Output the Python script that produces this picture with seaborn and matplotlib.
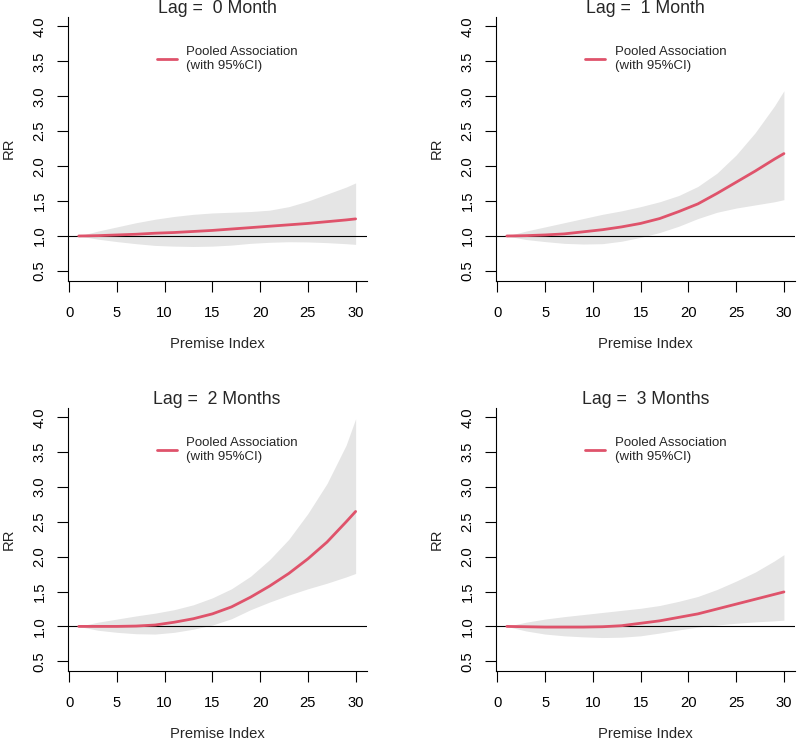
import pandas as pd
import matplotlib
matplotlib.use('Agg')
import matplotlib.pyplot as plt
import seaborn as sns

sns.set_style('ticks')
plt.rcParams['font.family'] = ['Liberation Sans', 'DejaVu Sans']

# Values
premise_index = [1, 3, 5, 7, 9, 11, 13, 15, 17, 19, 21, 23, 25, 27, 29, 30]

lag0_rr = [1.00, 1.005, 1.015, 1.025, 1.04, 1.05, 1.065, 1.08, 1.10, 1.12, 1.14, 1.16, 1.18, 1.205, 1.23, 1.245]
lag0_high = [1.00, 1.07, 1.13, 1.19, 1.24, 1.28, 1.31, 1.33, 1.34, 1.35, 1.37, 1.42, 1.50, 1.60, 1.70, 1.76]
lag0_low = [1.00, 0.955, 0.92, 0.89, 0.865, 0.855, 0.85, 0.855, 0.87, 0.895, 0.91, 0.918, 0.915, 0.905, 0.89, 0.88]

lag1_rr = [1.00, 1.005, 1.015, 1.03, 1.06, 1.09, 1.13, 1.18, 1.25, 1.35, 1.46, 1.61, 1.77, 1.93, 2.10, 2.18]
lag1_high = [1.00, 1.07, 1.13, 1.19, 1.25, 1.31, 1.36, 1.42, 1.49, 1.58, 1.71, 1.90, 2.16, 2.48, 2.86, 3.08]
lag1_low = [1.00, 0.95, 0.92, 0.895, 0.885, 0.89, 0.925, 0.98, 1.05, 1.14, 1.25, 1.34, 1.40, 1.445, 1.49, 1.52]

lag2_rr = [1.00, 1.00, 1.00, 1.005, 1.02, 1.06, 1.11, 1.18, 1.28, 1.42, 1.58, 1.76, 1.97, 2.21, 2.50, 2.65]
lag2_high = [1.00, 1.06, 1.105, 1.15, 1.19, 1.24, 1.31, 1.41, 1.54, 1.72, 1.96, 2.25, 2.62, 3.05, 3.60, 3.98]
lag2_low = [1.00, 0.945, 0.915, 0.895, 0.89, 0.915, 0.96, 1.02, 1.11, 1.24, 1.35, 1.45, 1.54, 1.62, 1.71, 1.76]

lag3_rr = [1.00, 0.995, 0.99, 0.99, 0.99, 0.995, 1.01, 1.045, 1.08, 1.13, 1.18, 1.25, 1.32, 1.39, 1.46, 1.495]
lag3_high = [1.00, 1.06, 1.105, 1.14, 1.17, 1.20, 1.23, 1.26, 1.30, 1.36, 1.43, 1.53, 1.65, 1.78, 1.94, 2.03]
lag3_low = [1.00, 0.935, 0.89, 0.865, 0.85, 0.84, 0.845, 0.865, 0.905, 0.95, 0.99, 1.02, 1.045, 1.065, 1.08, 1.09]

titles = ['Lag =  0 Month', 'Lag =  1 Month', 'Lag =  2 Months', 'Lag =  3 Months']
fits = [lag0_rr, lag1_rr, lag2_rr, lag3_rr]
highs = [lag0_high, lag1_high, lag2_high, lag3_high]
lows = [lag0_low, lag1_low, lag2_low, lag3_low]

x_ticks = [0, 5, 10, 15, 20, 25, 30]
y_ticks = [0.5, 1.0, 1.5, 2.0, 2.5, 3.0, 3.5, 4.0]

red = '#DF536B'
band = '#E5E5E5'

fig = plt.figure(figsize=(7.97, 7.42), dpi=100)

# panel positions [left, bottom, width, height] in figure fraction
positions = [
    [0.0849, 0.6217, 0.3752, 0.3558],
    [0.6220, 0.6217, 0.3755, 0.3558],
    [0.0849, 0.0957, 0.3752, 0.3549],
    [0.6220, 0.0957, 0.3755, 0.3549],
]

for i in range(4):
    ax = fig.add_axes(positions[i])
    df = pd.DataFrame({'Premise Index': premise_index, 'RR': fits[i],
                       'low': lows[i], 'high': highs[i]})

    ax.fill_between(df['Premise Index'], df['low'], df['high'], color=band, lw=0)
    ax.axhline(1.0, color='black', lw=0.8)
    sns.lineplot(data=df, x='Premise Index', y='RR', ax=ax, color=red, lw=2.0,
                 label='Pooled Association\n(with 95%CI)')

    ax.set_xlim(-0.16, 31.16)
    ax.set_ylim(0.36, 4.14)
    ax.set_xticks(x_ticks)
    ax.set_yticks(y_ticks)
    ax.set_yticklabels(['%.1f' % v for v in y_ticks])
    sns.despine(ax=ax)
    for s in ['left', 'bottom']:
        ax.spines[s].set_linewidth(0.8)
        ax.spines[s].set_color('black')

    ax.tick_params(axis='both', direction='out', length=7.6, width=0.8,
                   color='black', labelsize=10.6, labelcolor='black')
    ax.tick_params(axis='x', pad=10.5)
    ax.tick_params(axis='y', pad=7.7, labelrotation=90)
    for lab in ax.get_yticklabels():
        lab.set_verticalalignment('center')

    ax.set_title(titles[i], fontsize=12.7, pad=2.9)
    ax.set_xlabel('Premise Index', fontsize=10.6)
    ax.set_ylabel('RR', fontsize=10.6)
    ax.xaxis.set_label_coords(0.5, -0.212)
    ax.yaxis.set_label_coords(-0.175, 0.5)

    ax.legend(loc='upper left', bbox_to_anchor=(0.298, 0.888), frameon=False,
              fontsize=9.5, borderpad=0, borderaxespad=0,
              handlelength=1.55, handletextpad=0.7)

fig.savefig('out.png', dpi=100)
